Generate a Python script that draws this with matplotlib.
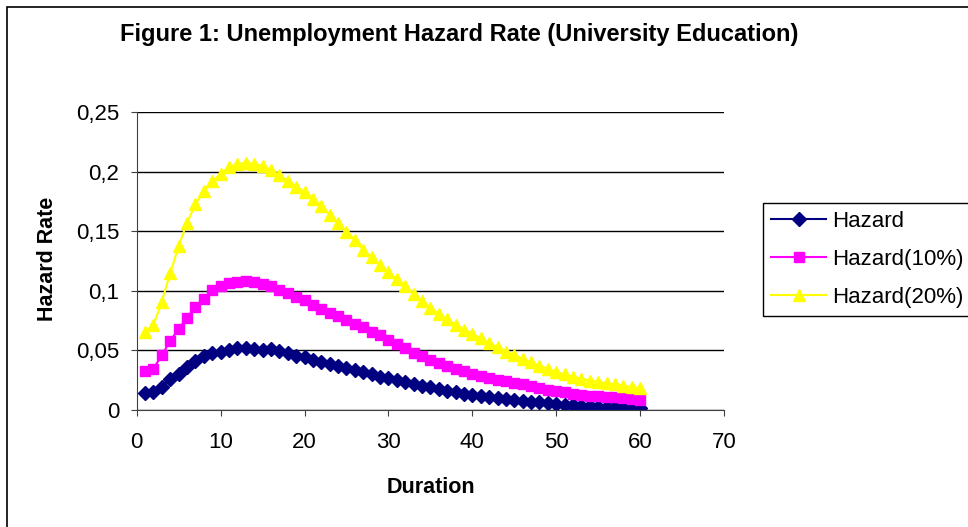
import matplotlib.pyplot as plt
from matplotlib.patches import Rectangle

# durations 1..60 and the three hazard series
duration = list(range(1, 61))

hazard = [0.0140, 0.0150, 0.0196, 0.0262, 0.0306, 0.0360, 0.0410, 0.0455, 0.0476, 0.0489,
          0.0505, 0.0517, 0.0524, 0.0513, 0.0507, 0.0512, 0.0495, 0.0476, 0.0455, 0.0442,
          0.0422, 0.0404, 0.0386, 0.0366, 0.0352, 0.0338, 0.0318, 0.0304, 0.0281, 0.0268,
          0.0254, 0.0233, 0.0219, 0.0205, 0.0190, 0.0176, 0.0163, 0.0150, 0.0138, 0.0128,
          0.0118, 0.0109, 0.0101, 0.0094, 0.0087, 0.0079, 0.0071, 0.0063, 0.0056, 0.0049,
          0.0043, 0.0038, 0.0034, 0.0030, 0.0027, 0.0025, 0.0022, 0.0019, 0.0016, 0.0014]

hazard10 = [0.0330, 0.0347, 0.0460, 0.0580, 0.0680, 0.0775, 0.0865, 0.0935, 0.1005, 0.1042,
            0.1065, 0.1076, 0.1081, 0.1076, 0.1059, 0.1037, 0.1008, 0.0980, 0.0952, 0.0925,
            0.0885, 0.0850, 0.0815, 0.0787, 0.0755, 0.0725, 0.0698, 0.0658, 0.0628, 0.0588,
            0.0554, 0.0517, 0.0482, 0.0452, 0.0423, 0.0396, 0.0372, 0.0348, 0.0327, 0.0305,
            0.0287, 0.0270, 0.0255, 0.0242, 0.0230, 0.0216, 0.0203, 0.0187, 0.0172, 0.0158,
            0.0147, 0.0137, 0.0129, 0.0121, 0.0115, 0.0110, 0.0105, 0.0099, 0.0093, 0.0088]

hazard20 = [0.0657, 0.0713, 0.0910, 0.1149, 0.1374, 0.1570, 0.1725, 0.1837, 0.1921, 0.1978,
            0.2042, 0.2062, 0.2076, 0.2062, 0.2048, 0.2014, 0.1969, 0.1921, 0.1874, 0.1829,
            0.1767, 0.1711, 0.1640, 0.1565, 0.1490, 0.1430, 0.1345, 0.1280, 0.1220, 0.1160,
            0.1095, 0.1040, 0.0975, 0.0915, 0.0858, 0.0805, 0.0760, 0.0716, 0.0675, 0.0640,
            0.0600, 0.0565, 0.0525, 0.0490, 0.0460, 0.0432, 0.0400, 0.0372, 0.0345, 0.0320,
            0.0300, 0.0280, 0.0263, 0.0247, 0.0236, 0.0225, 0.0214, 0.0203, 0.0193, 0.0184]

series_names = ['Hazard', 'Hazard(10%)', 'Hazard(20%)']
x_ticks = [0, 10, 20, 30, 40, 50, 60, 70]
y_ticks = [0, 0.05, 0.1, 0.15, 0.2, 0.25]
y_tick_labels = ['0', '0,05', '0,1', '0,15', '0,2', '0,25']

plt.rcParams['font.family'] = ['Liberation Sans', 'DejaVu Sans']

fig = plt.figure(figsize=(9.68, 5.27), dpi=100)
ax = fig.add_axes([0.1412, 0.222, 0.6068, 0.5655])

ax.plot(duration, hazard, color='#000080', marker='D', markersize=7, lw=1.5,
        label=series_names[0])
ax.plot(duration, hazard10, color='#FF00FF', marker='s', markersize=7, lw=1.5,
        label=series_names[1])
ax.plot(duration, hazard20, color='#FFFF00', marker='^', markersize=9, lw=1.5,
        label=series_names[2])

ax.set_xlim(0, 70)
ax.set_ylim(0, 0.25)
ax.set_xticks(x_ticks)
ax.set_yticks(y_ticks)
ax.set_yticklabels(y_tick_labels)
ax.tick_params(labelsize=16, length=4.5, color='#404040')
ax.tick_params(axis='x', pad=11)
ax.tick_params(axis='y', pad=8)
ax.yaxis.grid(True, color='black', lw=1)
ax.set_axisbelow(True)
for side in ['top', 'right']:
    ax.spines[side].set_visible(False)
for side in ['left', 'bottom']:
    ax.spines[side].set_color('#404040')

fig.text(0.4747, 0.935, 'Figure 1: Unemployment Hazard Rate (University Education)',
         ha='center', va='center', fontsize=17, fontweight='bold')
fig.text(0.0486, 0.5085, 'Hazard Rate', rotation=90, ha='center', va='center',
         fontsize=15.5, fontweight='bold')
fig.text(0.4447, 0.0759, 'Duration', ha='center', va='center',
         fontsize=15.5, fontweight='bold')

leg = fig.legend(loc='upper left', bbox_to_anchor=(0.788, 0.6148), fontsize=16,
                 frameon=True, fancybox=False, edgecolor='black', framealpha=1,
                 handlelength=2.5, handletextpad=0.26, borderpad=0.36, labelspacing=0.77,
                 borderaxespad=0)
leg.get_frame().set_linewidth(1)

# chart area border
fig.patches.append(Rectangle((0.0072, -0.05), 1.1, 1.0373, transform=fig.transFigure,
                             fill=False, edgecolor='black', lw=1.2))

plt.savefig('out.png')
